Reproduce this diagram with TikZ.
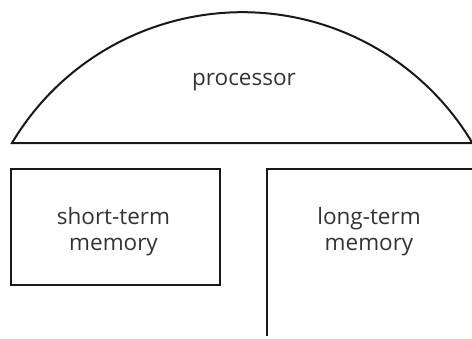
\documentclass[tikz,border=0pt]{standalone}
\usepackage{fontspec}
\setmainfont{Open Sans}
\definecolor{txt}{RGB}{51,51,51}
\definecolor{ln}{RGB}{25,25,25}
\begin{document}
\begin{tikzpicture}[x=1pt,y=1pt,
  shape line/.style={draw=ln,line width=2pt,line join=miter},
  label text/.style={font=\fontsize{22.5}{26}\selectfont,text=txt,inner sep=0pt,align=center}]
\useasboundingbox (0,0) rectangle (472,-338);
% processor half-disc
\draw[shape line] (12,-143) arc[start angle=149.2,end angle=30.8,radius=268] -- cycle;
\node[label text,anchor=base] (proc) at (244,-85) {processor};
% short-term memory box
\draw[shape line] (11,-169) rectangle (220,-285);
\node[label text] (stm) at (113.5,-232) {short-term\\memory};
% long-term memory (open box)
\draw[shape line] (473,-169) -- (267,-169) -- (267,-336);
\node[label text] (ltm) at (369,-232) {long-term\\memory};
\end{tikzpicture}
\end{document}
